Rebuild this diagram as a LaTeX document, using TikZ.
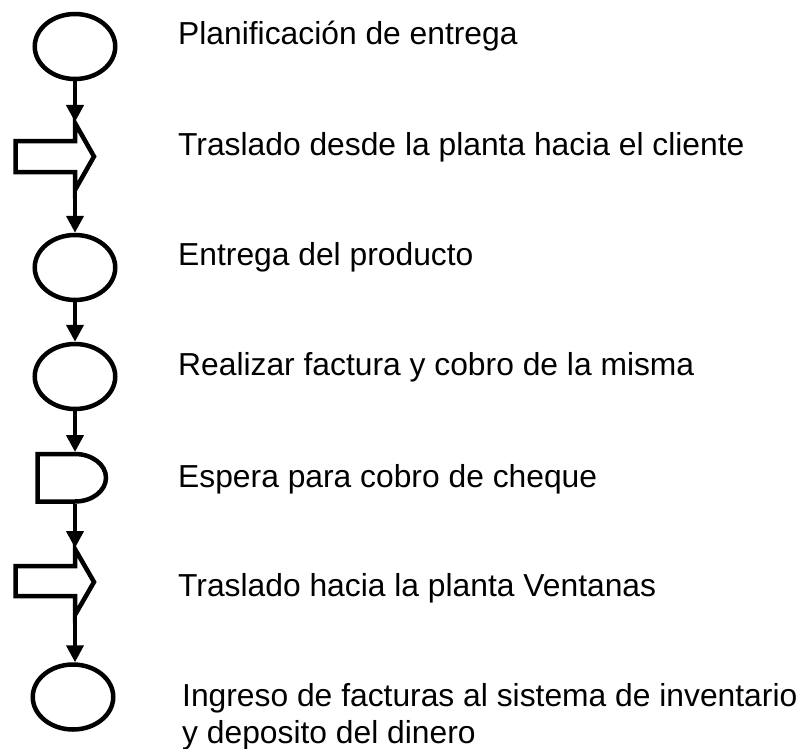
\documentclass[tikz,border=0pt]{standalone}
\usepackage{fontspec}
\setmainfont{Liberation Sans}
\usetikzlibrary{arrows.meta,shapes.geometric}
\begin{document}
\begin{tikzpicture}[x=1pt,y=-1pt,
  shapeline/.style={line width=4.5pt,draw=black,line join=miter},
  opnode/.style={ellipse,shapeline,minimum width=80.5pt,minimum height=65pt,inner sep=0pt,outer sep=auto},
  flow/.style={line width=4pt,-{Triangle[length=17pt 0 0,width=17pt 0 0]}},
  label/.style={anchor=base west,inner sep=0pt,font=\fontsize{31.8}{31}\selectfont}]
\useasboundingbox (0,0) rectangle (808,749);

% operations
\node[opnode] (e1) at (75,46.5) {};
\node[opnode] (e2) at (75,267.5) {};
\node[opnode] (e3) at (75,376.5) {};
\node[opnode] (e4) at (73,697) {};

% transport 1
\coordinate (t1top) at (75,122);
\coordinate (t1bot) at (75,190);
\draw[shapeline] (15.5,141) -- (75,141) -- (75,123) -- (94,156.5) -- (75,190) -- (75,172) -- (15.5,172) -- cycle;

% delay
\coordinate (dtop) at (75,452);
\coordinate (dbot) at (75,503.5);
\draw[shapeline] (37.5,454) -- (75,454) arc[start angle=-90,end angle=90,x radius=31,y radius=23.75] -- (37.5,501.5) -- cycle;

% transport 2
\coordinate (t2top) at (75,548);
\coordinate (t2bot) at (75,615);
\draw[shapeline] (15.5,566) -- (75,566) -- (75,549) -- (94,582) -- (75,615) -- (75,596) -- (15.5,596) -- cycle;

% connectors
\draw[flow] (e1.south) -- (t1top);
\draw[flow] (t1bot) -- (e2.north);
\draw[flow] (e2.south) -- (e3.north);
\draw[flow] (e3.south) -- (dtop);
\draw[flow] (dbot) -- (t2top);
\draw[flow] (t2bot) -- (t2bot |- e4.north);

% labels
\node[label] (l1) at (178,45) {Planificación de entrega};
\node[label] (l2) at (178,155) {Traslado desde la planta hacia el cliente};
\node[label] (l3) at (178,265) {Entrega del producto};
\node[label] (l4) at (178,375) {Realizar factura y cobro de la misma};
\node[label] (l5) at (178,487) {Espera para cobro de cheque};
\node[label] (l6) at (178,596) {Traslado hacia la planta Ventanas};
\node[label] (l7) at (182,706) {\begin{tabular}[t]{@{}l@{}}Ingreso de facturas al sistema de inventario\\[5pt]y deposito del dinero\end{tabular}};
\end{tikzpicture}
\end{document}
